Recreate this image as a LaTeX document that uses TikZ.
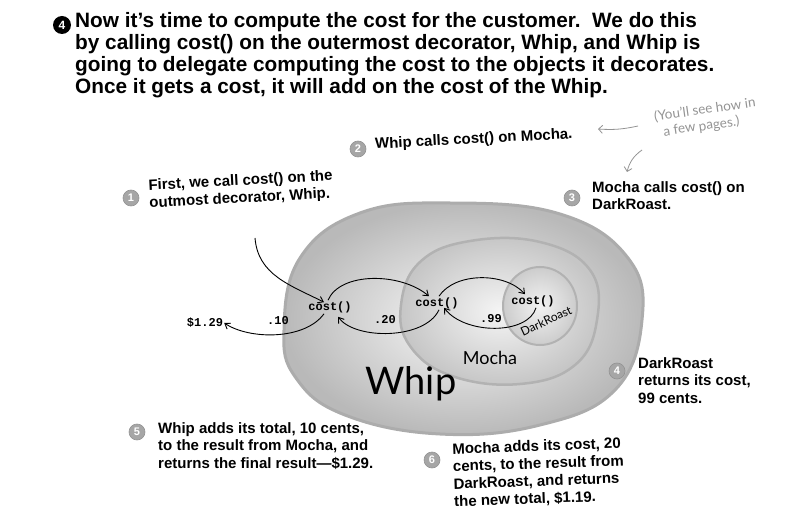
\documentclass[tikz,border=0pt]{standalone}
\usepackage{fontspec}
\setmainfont{Liberation Sans}
\setmonofont{Liberation Mono}
\newfontfamily\handfont{Lato}
\usetikzlibrary{arrows.meta,positioning,calc}

\begin{document}
\begin{tikzpicture}[x=1pt,y=-1pt,
    stepnum/.style={circle, fill=gray!70, draw=gray!85, line width=0.6pt, text=white, font=\bfseries\fontsize{11}{11}\selectfont, inner sep=0pt, minimum size=16pt},
    note/.style={font=\bfseries\fontsize{15}{17.5}\selectfont, align=left, anchor=north west, inner sep=0pt},
    call/.style={font=\ttfamily\bfseries\fontsize{12}{12}\selectfont, inner sep=1pt},
    flow/.style={-{Straight Barb[length=5pt,width=7pt]}, line width=0.9pt},
    hand/.style={font=\handfont\itshape, inner sep=0pt}
]
    \useasboundingbox (0,0) rectangle (800,521);

    % title
    \node[circle, fill=black, text=white, font=\bfseries\fontsize{12}{12}\selectfont, inner sep=0pt, minimum size=18pt] (s4top) at (62,25) {4};
    \node[anchor=north west, font=\bfseries\fontsize{20.8}{22}\selectfont, align=left, inner sep=0pt] (title) at (75,12)
        {Now it’s time to compute the cost for the customer.\ \ We do this\\
         by calling cost() on the outermost decorator, Whip, and Whip is\\
         going to delegate computing the cost to the objects it decorates.\\
         Once it gets a cost, it will add on the cost of the Whip.};

    % the three wrappers
    \shade[inner color=gray!5, outer color=gray!55, draw=gray!65, line width=3pt]
        plot[smooth cycle, tension=0.7] coordinates {(284,330) (300,258) (360,213) (450,203) (560,214) (628,258) (642,320) (615,390) (540,425) (440,434) (345,415) (296,378)};
    \shade[inner color=gray!8, outer color=gray!45, draw=gray!60, line width=2.5pt]
        plot[smooth cycle, tension=0.7] coordinates {(401,305) (420,262) (470,241) (540,242) (590,270) (597,320) (575,365) (520,384) (452,376) (410,346)};
    \shade[inner color=gray!10, outer color=gray!40, draw=gray!60, line width=2pt]
        (540,306) ellipse (37 and 39);

    \node[hand, font=\handfont\fontsize{18}{18}\selectfont] (mocha) at (490,358) {Mocha};
    \node[hand, font=\handfont\fontsize{38}{38}\selectfont] (whip) at (411,384) {Whip};
    \node[hand, font=\handfont\fontsize{12}{12}\selectfont, rotate=25] (droast) at (546,321) {DarkRoast};

    % cost() calls
    \node[call] (w_cost) at (330,307) {cost()};
    \node[call] (m_cost) at (437,303) {cost()};
    \node[call] (d_cost) at (533,301) {cost()};

    \node[call] (total) at (205,323) {\$1.29};
    \node[call] (wten) at (278,321) {.10};
    \node[call] (mtwenty) at (385,320) {.20};
    \node[call] (dcents) at (491,319) {.99};

    \coordinate (caller) at (255,238);
    \draw[flow] (caller) .. controls (258,275) and (290,285) .. ([xshift=-6pt,yshift=-2pt]w_cost.north);
    \draw[flow] ([xshift=-2pt]w_cost.north) .. controls (340,272) and (400,272) .. ([xshift=-8pt]m_cost.north);
    \draw[flow] ([xshift=2pt]m_cost.north) .. controls (455,272) and (505,272) .. ([xshift=-8pt]d_cost.north);
    \draw[flow] ([xshift=3pt]d_cost.south) .. controls (528,335) and (465,335) .. ([xshift=7pt,yshift=2pt]m_cost.south);
    \draw[flow] ([xshift=2pt]m_cost.south) .. controls (425,340) and (355,340) .. ([xshift=8pt,yshift=-3pt]w_cost.south);
    \draw[flow] ([xshift=-6pt]w_cost.south) .. controls (305,340) and (250,340) .. (total.east);

    % side remark
    \node[hand, text=gray!85, font=\handfont\fontsize{13.5}{16}\selectfont, align=left, rotate=8] (remark) at (706,118)
        {(You’ll see how in\\ \ \ a few pages.)};
    \coordinate (remarkL) at (598,129);
    \coordinate (remarkD) at (627,172);
    \draw[-{Straight Barb[length=4pt]}, gray!85, thick] (638,126) to[bend left=8] (remarkL);
    \draw[-{Straight Barb[length=4pt]}, gray!85, thick] (642,150) to[bend right=20] (remarkD);

    % numbered steps
    \node[stepnum] (n1) at (131,198) {1};
    \node[note, rotate=3, anchor=north west] (t1) at (148,179) {First, we call cost() on the\\ outmost decorator, Whip.};
    \node[stepnum] (n2) at (358,149) {2};
    \node[note, rotate=3, anchor=west] (t2) at (375,145) {Whip calls cost() on Mocha.};
    \node[stepnum] (n3) at (572,198) {3};
    \node[note] (t3) at (592,181) {Mocha calls cost() on\\ DarkRoast.};
    \node[stepnum] (n4) at (617,371) {4};
    \node[note] (t4) at (638,357) {DarkRoast\\ returns its cost,\\ 99 cents.};
    \node[stepnum] (n5) at (137,432) {5};
    \node[note] (t5) at (158,422) {Whip adds its total, 10 cents,\\ to the result from Mocha, and\\ returns the final result—\$1.29.};
    \node[stepnum] (n6) at (432,460) {6};
    \node[note, rotate=2] (t6) at (452,443) {Mocha adds its cost, 20\\ cents, to the result from\\ DarkRoast, and returns\\ the new total, \$1.19.};
\end{tikzpicture}
\end{document}
